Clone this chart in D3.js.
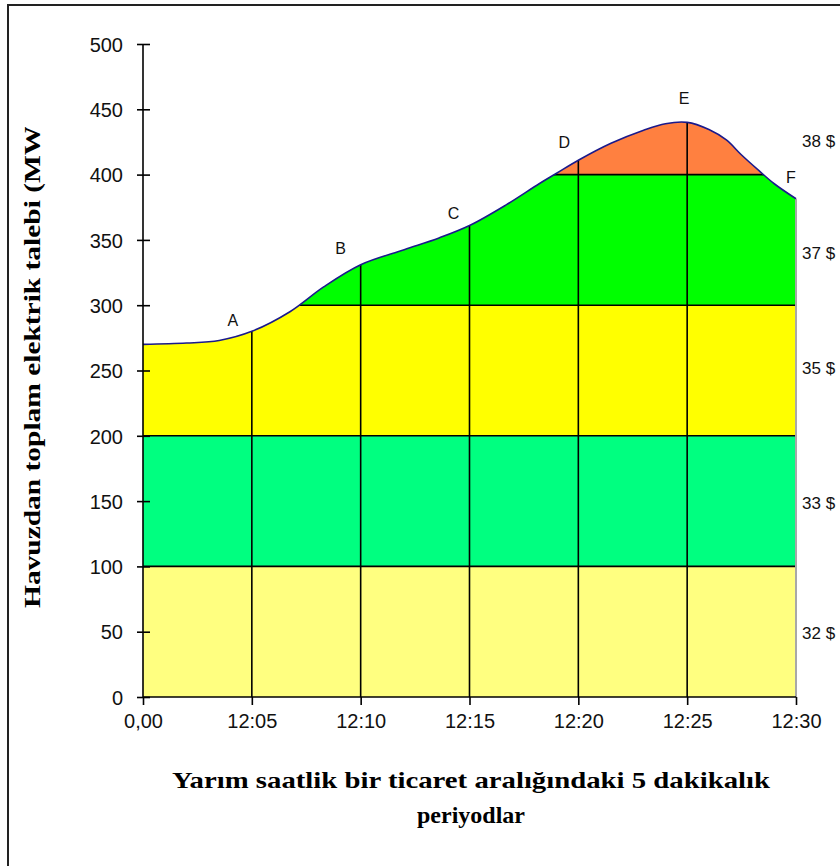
<!DOCTYPE html>
<html><head><meta charset="utf-8">
<script src="https://cdn.jsdelivr.net/npm/d3@7"></script>
<style>body{margin:0;background:#fff}</style>
</head><body>
<svg id="c" width="840" height="866"></svg>
<script>
// ---- data ----
const timeMinutes = [0, 2, 3.5, 5, 6.75, 8.3, 10, 12, 13.6, 15, 16.7, 18.2, 19, 20, 21.5, 23, 24, 25, 26, 26.8, 27.5, 28.3, 29, 30];
const demandMW    = [270, 271, 273, 280, 295, 314, 331, 342.5, 351.5, 361, 377, 393, 401, 411, 424, 434, 439, 440, 434.5, 426.5, 415, 403, 393, 381.5];
const xTicks = [0, 5, 10, 15, 20, 25, 30];
const xTickLabels = ["0,00", "12:05", "12:10", "12:15", "12:20", "12:25", "12:30"];
const yTicks = [0, 50, 100, 150, 200, 250, 300, 350, 400, 450, 500];
const bandEdges = [0, 100, 200, 300, 400, 500];
const bandColors = ["#FFFF80", "#00FF80", "#FFFF00", "#00FF00", "#FF8040"];
const priceLabels = ["32 $", "33 $", "35 $", "37 $", "38 $"];
const priceLabelLevel = [49, 149, 252, 340, 426];
const pointNames = ["A", "B", "C", "D", "E", "F"];
const pointTimes = [5, 10, 15, 20, 25, 30];
const pointLabelOffset = [[-19, -11], [-20, -16], [-16, -12], [-14, -18], [-3, -24], [-5, -22]];
const yTitle = "Havuzdan toplam elektrik talebi (MW)";
const xTitle1 = "Yarım saatlik bir ticaret aralığındaki 5 dakikalık";
const xTitle2 = "periyodlar";

// ---- layout ----
const svg = d3.select("#c");
const X0 = 143, X1 = 796, Y0 = 697, Y1 = 44;
const x = d3.scaleLinear().domain([0, 30]).range([X0, X1]);
const y = d3.scaleLinear().domain([0, 500]).range([Y0, Y1]);
const pts = timeMinutes.map((t, i) => [t, demandMW[i]]);
const valueAt = t => d3.scaleLinear().domain(timeMinutes).range(demandMW)(t);
const curve = d3.curveCatmullRom.alpha(0.5);

// frame
svg.append("rect").attr("x", 8).attr("y", 5).attr("width", 860).attr("height", 880)
  .attr("fill", "none").attr("stroke", "#222").attr("stroke-width", 2);

const defs = svg.append("defs");
const area = d3.area().x(d => x(d[0])).y0(y(0)).y1(d => y(d[1])).curve(curve);
defs.append("clipPath").attr("id", "under").append("path").attr("d", area(pts));
defs.append("clipPath").attr("id", "ytclip").append("rect").attr("x", 0).attr("y", 127).attr("width", 100).attr("height", 600);

const g = svg.append("g").attr("clip-path", "url(#under)");
bandColors.forEach((c, i) => {
  g.append("rect").attr("x", X0).attr("width", X1 - X0)
    .attr("y", y(bandEdges[i + 1])).attr("height", y(bandEdges[i]) - y(bandEdges[i + 1]))
    .attr("fill", c);
});
bandEdges.slice(1, 5).forEach(v => {
  g.append("line").attr("x1", X0).attr("x2", X1).attr("y1", y(v)).attr("y2", y(v))
    .attr("stroke", "#000").attr("stroke-width", 1.6);
});
xTicks.slice(1, 6).forEach(t => {
  g.append("line").attr("x1", x(t)).attr("x2", x(t)).attr("y1", y(0)).attr("y2", y(500))
    .attr("stroke", "#000").attr("stroke-width", 1.6);
});

// right edge grey line
svg.append("line").attr("x1", x(30)).attr("x2", x(30)).attr("y1", y(valueAt(30))).attr("y2", y(0))
  .attr("stroke", "#a8a8a8").attr("stroke-width", 2);

// curve
const line = d3.line().x(d => x(d[0])).y(d => y(d[1])).curve(curve);
svg.append("path").attr("d", line(pts)).attr("fill", "none").attr("stroke", "#1a1a8c").attr("stroke-width", 1.6);

// axes
const font = "'Liberation Sans', Arial, sans-serif";
const ya = svg.append("g").attr("transform", `translate(${X0},0)`)
  .call(d3.axisLeft(y).tickValues(yTicks).tickSize(6));
ya.select(".domain").attr("d", `M0,${Y1}V${Y0}`).attr("stroke", "#000").attr("stroke-width", 1.6);
ya.selectAll(".tick line").attr("x1", -6).attr("x2", 7).attr("stroke", "#000").attr("stroke-width", 1.6);
ya.selectAll(".tick text").attr("x", -20).attr("dy", "0.36em")
  .style("font-family", font).style("font-size", "20px").attr("fill", "#111");

const xa = svg.append("g").attr("transform", `translate(0,${Y0})`)
  .call(d3.axisBottom(x).tickValues(xTicks).tickFormat((d, i) => xTickLabels[i]).tickSize(8));
xa.select(".domain").attr("d", `M${X0},0H${X1}`).attr("stroke", "#000").attr("stroke-width", 1.6);
xa.selectAll(".tick line").attr("stroke", "#000").attr("stroke-width", 1.6);
xa.selectAll(".tick text").attr("y", 24).attr("dy", "0.36em")
  .style("font-family", font).style("font-size", "20px").attr("fill", "#111");

// point labels
pointNames.forEach((n, i) => {
  const t = pointTimes[i];
  svg.append("text").attr("x", x(t) + pointLabelOffset[i][0]).attr("y", y(valueAt(t)) + pointLabelOffset[i][1])
    .attr("text-anchor", "middle").attr("dy", "0.36em")
    .style("font-family", font).style("font-size", "16px").attr("fill", "#111").text(n);
});

// price labels
priceLabels.forEach((p, i) => {
  svg.append("text").attr("x", 802).attr("y", y(priceLabelLevel[i])).attr("dy", "0.36em")
    .style("font-family", font).style("font-size", "17px").attr("fill", "#111").text(p);
});

// titles
const serif = "'Liberation Serif', 'Times New Roman', serif";
svg.append("g").attr("clip-path", "url(#ytclip)").append("text")
  .attr("transform", "translate(40,608) rotate(-90)")
  .attr("textLength", 492).attr("lengthAdjust", "spacingAndGlyphs")
  .style("font-family", serif).style("font-size", "24px").style("font-weight", "bold")
  .attr("fill", "#000").text(yTitle);
svg.append("text").attr("x", 471).attr("y", 788).attr("text-anchor", "middle")
  .attr("textLength", 598).attr("lengthAdjust", "spacingAndGlyphs")
  .style("font-family", serif).style("font-size", "24px").style("font-weight", "bold")
  .attr("fill", "#000").text(xTitle1);
svg.append("text").attr("x", 471).attr("y", 823).attr("text-anchor", "middle")
  .style("font-family", serif).style("font-size", "24px").style("font-weight", "bold")
  .attr("fill", "#000").text(xTitle2);
</script>
</body></html>
